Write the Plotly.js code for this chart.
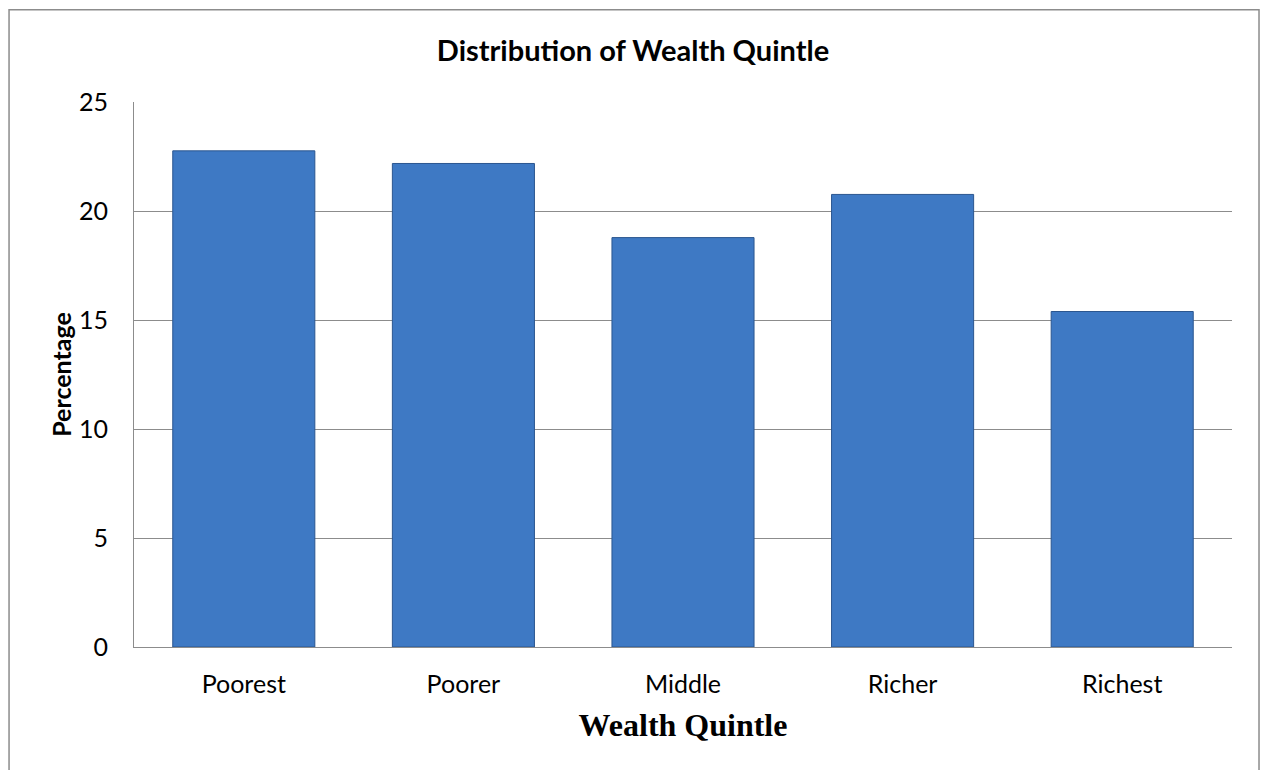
<!DOCTYPE html>
<html>
<head>
<meta charset="utf-8">
<script src="https://cdn.plot.ly/plotly-3.0.1.min.js"></script>
<style>html,body{margin:0;padding:0;background:#fff;}#chart{width:1261px;height:770px;}</style>
</head>
<body>
<div id="chart"></div>
<script>
const categories = ["Poorest", "Poorer", "Middle", "Richer", "Richest"];
const percentages = [22.76, 22.18, 18.78, 20.76, 15.39];
const yTickValues = [0, 5, 10, 15, 20, 25];

const trace = {
  type: "bar",
  x: categories,
  y: percentages,
  marker: {color: "#3E79C4", line: {color: "#2B568F", width: 1}},
  hoverinfo: "x+y"
};

const layout = {
  width: 1261,
  height: 770,
  margin: {l: 134, r: 29, t: 101.5, b: 122.5},
  paper_bgcolor: "#ffffff",
  plot_bgcolor: "#ffffff",
  bargap: 0.353,
  showlegend: false,
  font: {family: "Lato, 'Open Sans', sans-serif", color: "#000000", size: 24},
  title: {
    text: "<b>Distribution of Wealth Quintle</b>",
    font: {family: "Lato, 'Open Sans', sans-serif", size: 29, color: "#000000"},
    x: 0.502, xanchor: "center",
    y: 0.934, yanchor: "middle"
  },
  xaxis: {
    type: "category",
    showgrid: false,
    showline: true,
    linecolor: "#8c8c8c",
    linewidth: 1,
    ticks: "",
    ticklabelstandoff: 15,
    tickfont: {family: "Lato, 'Open Sans', sans-serif", size: 25, color: "#000"},
    title: {
      text: "<b>Wealth Quintle</b>",
      font: {family: "'Liberation Serif', 'Times New Roman', serif", size: 32, color: "#000"},
      standoff: 16
    },
    automargin: false
  },
  yaxis: {
    range: [0, 25],
    tickvals: yTickValues,
    showgrid: true,
    gridcolor: "#8c8c8c",
    gridwidth: 1,
    zeroline: false,
    showline: true,
    linecolor: "#8c8c8c",
    linewidth: 1,
    ticks: "",
    ticklabelstandoff: 20,
    tickfont: {family: "Lato, 'Open Sans', sans-serif", size: 25, color: "#000"},
    title: {
      text: "<b>Percentage</b>",
      font: {family: "Lato, 'Open Sans', sans-serif", size: 25, color: "#000"},
      standoff: 0
    },
    automargin: false
  },
  shapes: [{
    type: "rect", xref: "paper", yref: "paper",
    x0: -0.1138, x1: 1.0246, y0: -0.25, y1: 1.1694,
    line: {color: "#8c8c8c", width: 1.5},
    fillcolor: "rgba(0,0,0,0)",
    layer: "below"
  }]
};

Plotly.newPlot("chart", [trace], layout, {displayModeBar: false, staticPlot: true});
</script>
</body>
</html>
